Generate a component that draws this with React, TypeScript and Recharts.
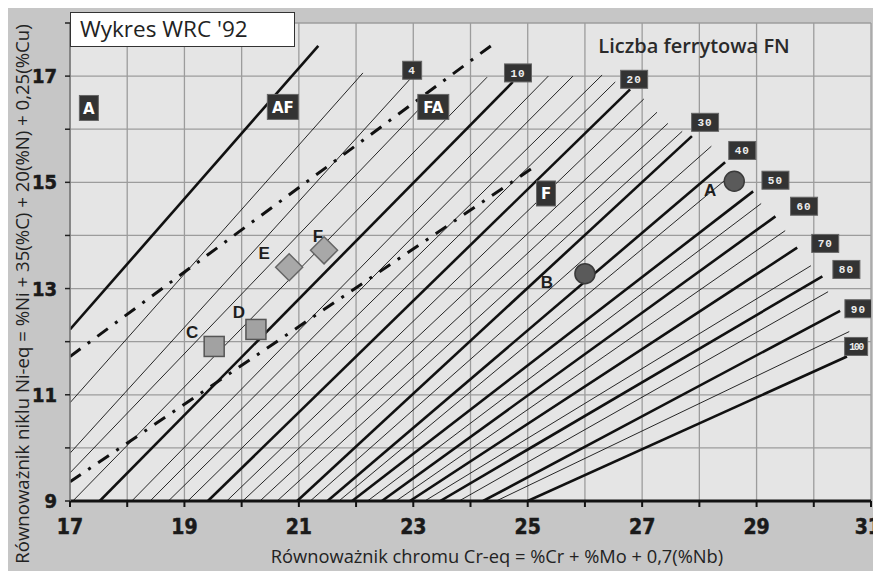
import React from "react";
import {
  ComposedChart,
  Line,
  Scatter,
  XAxis,
  YAxis,
  CartesianGrid,
} from "recharts";

// ferrite number iso-lines (start point at the left/bottom edge, end point top-right)
const fnLevels = [0, 2, 4, 6, 8, 10, 12, 14, 16, 18, 20, 22, 24, 26, 28, 30, 35, 40, 45, 50, 55, 60, 65, 70, 75, 80, 85, 90, 95, 100];
const fnStartCr = [17, 17, 17, 17, 17.05, 17.52, 18.08, 18.4, 18.72, 19.06, 19.41, 19.74, 20.02, 20.32, 20.62, 20.97, 21.2, 21.5, 21.7, 21.93, 22.2, 22.45, 22.7, 22.94, 23.2, 23.47, 23.8, 24.22, 24.45, 25.0];
const fnStartNi = [12.23, 10.85, 9.9, 9.53, 9, 9, 9, 9, 9, 9, 9, 9, 9, 9, 9, 9, 9, 9, 9, 9, 9, 9, 9, 9, 9, 9, 9, 9, 9, 9];
const fnEndCr = [21.34, 22.12, 22.94, 23.3, 24.29, 24.74, 25.36, 25.79, 26.3, 26.53, 26.79, 27.03, 27.26, 27.45, 27.7, 27.87, 28.21, 28.45, 28.47, 28.94, 29.08, 29.33, 29.5, 29.71, 29.95, 30.15, 30.25, 30.46, 30.62, 30.58];
const fnEndNi = [17.57, 17.06, 16.94, 16.6, 16.98, 16.89, 17.0, 17.0, 17.02, 16.89, 16.75, 16.57, 16.32, 16.11, 15.96, 15.87, 15.68, 15.38, 15.06, 14.83, 14.6, 14.36, 14.09, 13.77, 13.43, 13.23, 12.94, 12.58, 12.19, 11.72];

// solidification mode boundaries (dash-dot)
const boundaryNames = ["AF/FA", "FA/F"];
const boundaryStart = [[17, 11.72], [17, 9.36]];
const boundaryEnd = [[24.47, 17.66], [25.18, 15.34]];

// region labels
const regionNames = ["A", "AF", "FA", "F"];
const regionCr = [17.33, 20.72, 23.35, 25.32];
const regionNi = [16.4, 16.42, 16.42, 14.79];

// FN number labels
const fnTagText = ["4", "10", "20", "30", "40", "50", "60", "70", "80", "90", "100"];
const fnTagCr = [22.98, 24.83, 26.86, 28.1, 28.75, 29.33, 29.83, 30.2, 30.57, 30.78, 30.74];
const fnTagNi = [17.11, 17.06, 16.94, 16.13, 15.6, 15.04, 14.55, 13.85, 13.36, 12.62, 11.91];

// measured welds
const circleNames = ["A", "B"];
const circleCr = [28.61, 26.0];
const circleNi = [15.02, 13.28];
const squareNames = ["C", "D"];
const squareCr = [19.52, 20.25];
const squareNi = [11.91, 12.23];
const diamondNames = ["E", "F"];
const diamondCr = [20.83, 21.44];
const diamondNi = [13.4, 13.72];

const xTicks = [17, 18, 19, 20, 21, 22, 23, 24, 25, 26, 27, 28, 29, 30, 31];
const yTicks = [9, 10, 11, 12, 13, 14, 15, 16, 17, 18];

// where the letter sits relative to its marker (px)
const pointLabelOffset: Record<string, [number, number]> = {
  "circle-A": [-24, 9],
  "circle-B": [-38, 9],
  "square-C": [-22, -14],
  "square-D": [-17, -17],
  "diamond-E": [-25, -14],
  "diamond-F": [-6, -14],
};

const W = 873;
const H = 563;
const textFont = "'Open Sans', 'Noto Sans', sans-serif";
const tickFont = "'Liberation Sans Narrow', 'DejaVu Sans Condensed', 'Roboto Condensed', sans-serif";

const fnLines = fnLevels.map((fn, i) => ({
  fn,
  data: [
    { x: fnStartCr[i], y: fnStartNi[i] },
    { x: fnEndCr[i], y: fnEndNi[i] },
  ],
}));

const boundaries = boundaryNames.map((name, i) => ({
  name,
  data: [
    { x: boundaryStart[i][0], y: boundaryStart[i][1] },
    { x: boundaryEnd[i][0], y: boundaryEnd[i][1] },
  ],
}));

const regions = regionNames.map((t, i) => ({ x: regionCr[i], y: regionNi[i], t }));
const fnTags = fnTagText.map((t, i) => ({ x: fnTagCr[i], y: fnTagNi[i], t }));
const circles = circleNames.map((t, i) => ({ x: circleCr[i], y: circleNi[i], t }));
const squares = squareNames.map((t, i) => ({ x: squareCr[i], y: squareNi[i], t }));
const diamonds = diamondNames.map((t, i) => ({ x: diamondCr[i], y: diamondNi[i], t }));

const PointLetter = ({ cx, cy, kind, t }: any) => {
  const off = pointLabelOffset[`${kind}-${t}`] || [0, 0];
  return (
    <text
      x={cx + off[0]}
      y={cy + off[1]}
      textAnchor="middle"
      dominantBaseline="central"
      fontFamily="'Liberation Sans', Arial, sans-serif"
      fontWeight={700}
      fontSize={17}
      fill="#1e1e1e"
    >
      {t}
    </text>
  );
};

const RegionBox = (props: any) => {
  const { cx, cy, payload } = props;
  const w = payload.t.length > 1 ? 31 : 19;
  const h = 25;
  return (
    <g>
      <rect x={cx - w / 2} y={cy - h / 2} width={w} height={h} fill="#333" stroke="#666" strokeWidth={1} />
      <text
        x={cx}
        y={cy + 1}
        textAnchor="middle"
        dominantBaseline="central"
        fontFamily="'DejaVu Sans', sans-serif"
        fontWeight={700}
        fontSize={15}
        fill="#fff"
      >
        {payload.t}
      </text>
    </g>
  );
};

const FnTag = (props: any) => {
  const { cx, cy, payload } = props;
  const len = payload.t.length;
  const w = len === 1 ? 19 : len === 2 ? 27 : 23;
  const h = 18;
  return (
    <g>
      <rect x={cx - w / 2} y={cy - h / 2} width={w} height={h} fill="#333" stroke="#666" strokeWidth={1} />
      <text
        x={cx}
        y={cy + 1}
        textAnchor="middle"
        dominantBaseline="central"
        fontFamily="'Liberation Mono', 'DejaVu Sans Mono', monospace"
        fontWeight={700}
        fontSize={len === 3 ? 10 : 11}
        letterSpacing={len === 3 ? -1.5 : 1}
        fill="#eee"
      >
        {payload.t}
      </text>
    </g>
  );
};

const CircleMark = (props: any) => {
  const { cx, cy, payload } = props;
  return (
    <g>
      <circle cx={cx} cy={cy} r={10} fill="#5a5a5a" stroke="#3a3a3a" strokeWidth={1.5} />
      <PointLetter cx={cx} cy={cy} kind="circle" t={payload.t} />
    </g>
  );
};

const SquareMark = (props: any) => {
  const { cx, cy, payload } = props;
  return (
    <g>
      <rect x={cx - 10} y={cy - 10} width={20} height={20} fill="#a2a2a2" stroke="#555" strokeWidth={1.5} />
      <PointLetter cx={cx} cy={cy} kind="square" t={payload.t} />
    </g>
  );
};

const DiamondMark = (props: any) => {
  const { cx, cy, payload } = props;
  const r = 13.5;
  return (
    <g>
      <polygon
        points={`${cx},${cy - r} ${cx + r},${cy} ${cx},${cy + r} ${cx - r},${cy}`}
        fill="#a8a8a8"
        stroke="#666"
        strokeWidth={1.5}
      />
      <PointLetter cx={cx} cy={cy} kind="diamond" t={payload.t} />
    </g>
  );
};

const XTick = (props: any) => {
  const { x, y, payload } = props;
  if (payload.value % 2 === 0) return <g />;
  const last = payload.value === 31;
  return (
    <text
      x={last ? x + 10 : x}
      y={y}
      dy={25}
      textAnchor={last ? "end" : "middle"}
      fontFamily={tickFont}
      fontWeight={700}
      fontSize={21}
      stroke="#1a1a1a"
      strokeWidth={0.5}
      fill="#1a1a1a"
    >
      {payload.value}
    </text>
  );
};

const YTick = (props: any) => {
  const { x, y, payload } = props;
  if (payload.value % 2 === 0) return <g />;
  return (
    <text
      x={x}
      y={y}
      dx={-6}
      textAnchor="end"
      dominantBaseline="central"
      fontFamily={tickFont}
      fontWeight={700}
      fontSize={20}
      stroke="#1a1a1a"
      strokeWidth={0.5}
      fill="#1a1a1a"
    >
      {payload.value}
    </text>
  );
};

export default function App() {
  return (
    <div style={{ position: "relative", width: W, height: H, background: "#c6c6c6" }}>
      <ComposedChart width={W} height={H} margin={{ top: 15, right: 10, bottom: 0, left: 0 }}>
        <CartesianGrid stroke="#9c9c9c" strokeWidth={1.3} fill="#e5e5e5" />
        <XAxis
          type="number"
          dataKey="x"
          domain={[17, 31]}
          ticks={xTicks}
          interval={0}
          allowDataOverflow
          height={70}
          tick={<XTick />}
          tickSize={6}
          tickLine={{ stroke: "#111", strokeWidth: 2 }}
          axisLine={{ stroke: "#111", strokeWidth: 3 }}
        />
        <YAxis
          type="number"
          dataKey="y"
          domain={[9, 18]}
          ticks={yTicks}
          interval={0}
          allowDataOverflow
          width={62}
          tick={<YTick />}
          tickSize={5}
          tickLine={{ stroke: "#222", strokeWidth: 1.5 }}
          axisLine={{ stroke: "#777", strokeWidth: 1.5 }}
        />
        {fnLines.map((l) => (
          <Line
            key={`fn-${l.fn}`}
            data={l.data}
            dataKey="y"
            type="linear"
            stroke="#111"
            strokeWidth={l.fn % 10 === 0 ? 2.6 : 0.9}
            dot={false}
            activeDot={false}
            legendType="none"
            isAnimationActive={false}
          />
        ))}
        {boundaries.map((b) => (
          <Line
            key={b.name}
            data={b.data}
            dataKey="y"
            type="linear"
            stroke="#111"
            strokeWidth={3}
            strokeDasharray="13 9 3 9"
            dot={false}
            activeDot={false}
            legendType="none"
            isAnimationActive={false}
          />
        ))}
        <Scatter data={regions} shape={<RegionBox />} isAnimationActive={false} />
        <Scatter data={fnTags} shape={<FnTag />} isAnimationActive={false} />
        <Scatter data={squares} shape={<SquareMark />} isAnimationActive={false} />
        <Scatter data={diamonds} shape={<DiamondMark />} isAnimationActive={false} />
        <Scatter data={circles} shape={<CircleMark />} isAnimationActive={false} />
      </ComposedChart>

      <div
        style={{
          position: "absolute",
          left: 62,
          top: 4,
          width: 225,
          height: 35,
          boxSizing: "border-box",
          background: "#fff",
          border: "1.5px solid #333",
          fontFamily: textFont,
          fontSize: 22.5,
          lineHeight: "32px",
          paddingLeft: 9,
          color: "#222",
        }}
      >
        Wykres WRC '92
      </div>
      <div
        style={{
          position: "absolute",
          left: 586,
          top: 24,
          width: 200,
          textAlign: "center",
          fontFamily: textFont,
          fontSize: 20,
          fontWeight: 600,
          color: "#2a2a2a",
          whiteSpace: "nowrap",
        }}
      >
        Liczba ferrytowa FN
      </div>
      <div
        style={{
          position: "absolute",
          left: 189,
          top: 535,
          width: 600,
          textAlign: "center",
          fontFamily: textFont,
          fontSize: 18.3,
          color: "#222",
          whiteSpace: "nowrap",
        }}
      >
        Równoważnik chromu Cr-eq = %Cr + %Mo + 0,7(%Nb)
      </div>
      <div
        style={{
          position: "absolute",
          left: 14 - 300,
          top: 286 - 13,
          width: 600,
          height: 26,
          lineHeight: "26px",
          textAlign: "center",
          transform: "rotate(-90deg)",
          fontFamily: textFont,
          fontSize: 18.6,
          color: "#222",
          whiteSpace: "nowrap",
        }}
      >
        Równoważnik niklu Ni-eq = %Ni + 35(%C) + 20(%N) + 0,25(%Cu)
      </div>
    </div>
  );
}
